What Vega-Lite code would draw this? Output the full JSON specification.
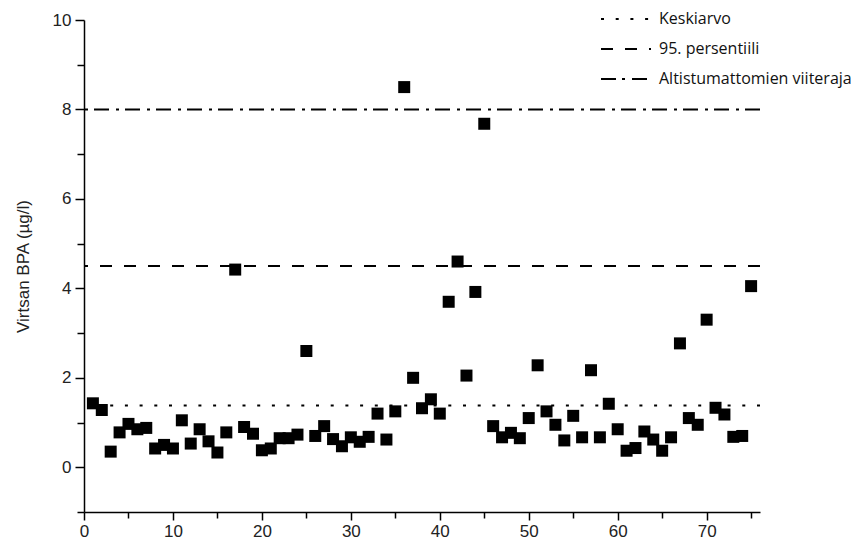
{
  "$schema": "https://vega.github.io/schema/vega-lite/v6.json",
  "width": 676,
  "height": 492,
  "autosize": "none",
  "padding": {"left": 84, "top": 20, "right": 100, "bottom": 33},
  "background": "white",
  "config": {"view": {"stroke": null}, "font": "Liberation Sans"},
  "datasets": {
    "points": [
      {"n":1,"v":1.43},{"n":2,"v":1.28},{"n":3,"v":0.35},{"n":4,"v":0.78},{"n":5,"v":0.97},
      {"n":6,"v":0.85},{"n":7,"v":0.88},{"n":8,"v":0.42},{"n":9,"v":0.5},{"n":10,"v":0.42},
      {"n":11,"v":1.05},{"n":12,"v":0.53},{"n":13,"v":0.85},{"n":14,"v":0.58},{"n":15,"v":0.33},
      {"n":16,"v":0.78},{"n":17,"v":4.42},{"n":18,"v":0.9},{"n":19,"v":0.75},{"n":20,"v":0.38},
      {"n":21,"v":0.42},{"n":22,"v":0.65},{"n":23,"v":0.65},{"n":24,"v":0.73},{"n":25,"v":2.6},
      {"n":26,"v":0.7},{"n":27,"v":0.92},{"n":28,"v":0.63},{"n":29,"v":0.47},{"n":30,"v":0.67},
      {"n":31,"v":0.57},{"n":32,"v":0.68},{"n":33,"v":1.2},{"n":34,"v":0.62},{"n":35,"v":1.25},
      {"n":36,"v":8.5},{"n":37,"v":2.0},{"n":38,"v":1.32},{"n":39,"v":1.52},{"n":40,"v":1.2},
      {"n":41,"v":3.7},{"n":42,"v":4.6},{"n":43,"v":2.05},{"n":44,"v":3.92},{"n":45,"v":7.68},
      {"n":46,"v":0.92},{"n":47,"v":0.67},{"n":48,"v":0.77},{"n":49,"v":0.65},{"n":50,"v":1.1},
      {"n":51,"v":2.28},{"n":52,"v":1.25},{"n":53,"v":0.95},{"n":54,"v":0.6},{"n":55,"v":1.15},
      {"n":56,"v":0.67},{"n":57,"v":2.17},{"n":58,"v":0.67},{"n":59,"v":1.42},{"n":60,"v":0.85},
      {"n":61,"v":0.37},{"n":62,"v":0.43},{"n":63,"v":0.8},{"n":64,"v":0.62},{"n":65,"v":0.37},
      {"n":66,"v":0.67},{"n":67,"v":2.77},{"n":68,"v":1.1},{"n":69,"v":0.95},{"n":70,"v":3.3},
      {"n":71,"v":1.33},{"n":72,"v":1.18},{"n":73,"v":0.68},{"n":74,"v":0.7},{"n":75,"v":4.05}
    ],
    "refs": [
      {"series": "Keskiarvo", "y": 1.38},
      {"series": "95. persentiili", "y": 4.5},
      {"series": "Altistumattomien viiteraja", "y": 8}
    ]
  },
  "layer": [
    {
      "data": {"name": "refs"},
      "mark": {"type": "rule", "color": "black", "strokeWidth": 2},
      "encoding": {
        "y": {"field": "y", "type": "quantitative", "scale": {"domain": [-1, 10], "nice": false}},
        "strokeDash": {
          "field": "series",
          "type": "nominal",
          "scale": {
            "domain": ["Keskiarvo", "95. persentiili", "Altistumattomien viiteraja"],
            "range": [[3, 11.7], [12, 12], [15, 6, 3, 7]]
          },
          "legend": {
            "title": null,
            "orient": "none",
            "legendX": 516,
            "legendY": -13,
            "symbolType": "stroke",
            "symbolSize": 2500,
            "symbolStrokeWidth": 2,
            "symbolStrokeColor": "black",
            "labelFont": "Open Sans",
            "labelFontSize": 16,
            "labelColor": "#111",
            "labelOffset": 7,
            "labelLimit": 400,
            "clipHeight": 24,
            "rowPadding": 6
          }
        }
      }
    },
    {
      "data": {"name": "points"},
      "mark": {"type": "point", "shape": "square", "filled": true, "color": "black", "opacity": 1, "size": 144},
      "encoding": {
        "x": {
          "field": "n", "type": "quantitative",
          "scale": {"domain": [0, 76], "nice": false},
          "axis": {
            "title": null, "grid": false,
            "values": [0,5,10,15,20,25,30,35,40,45,50,55,60,65,70,75],
            "labelExpr": "datum.value % 10 == 0 ? datum.label : ''",
            "domainColor": "black", "domainWidth": 1.5,
            "tickColor": "black", "tickWidth": 1.5,
            "tickSize": {"condition": {"test": "datum.value % 10 == 0", "value": 8}, "value": 6},
            "labelFontSize": 17, "labelColor": "#222", "labelPadding": 3, "labelFlush": false
          }
        },
        "y": {
          "field": "v", "type": "quantitative",
          "scale": {"domain": [-1, 10], "nice": false},
          "axis": {
            "title": "Virtsan BPA (µg/l)", "grid": false,
            "values": [-1,0,1,2,3,4,5,6,7,8,9,10],
            "labelExpr": "datum.value % 2 == 0 ? datum.label : ''",
            "domainColor": "black", "domainWidth": 1.5,
            "tickColor": "black", "tickWidth": 1.5,
            "tickSize": {"condition": {"test": "datum.value % 2 == 0", "value": 9}, "value": 7},
            "labelFontSize": 17, "labelColor": "#222", "labelPadding": 4,
            "titleFontSize": 17, "titleFontWeight": "normal", "titleColor": "#222", "titlePadding": 20
          }
        }
      }
    }
  ]
}
